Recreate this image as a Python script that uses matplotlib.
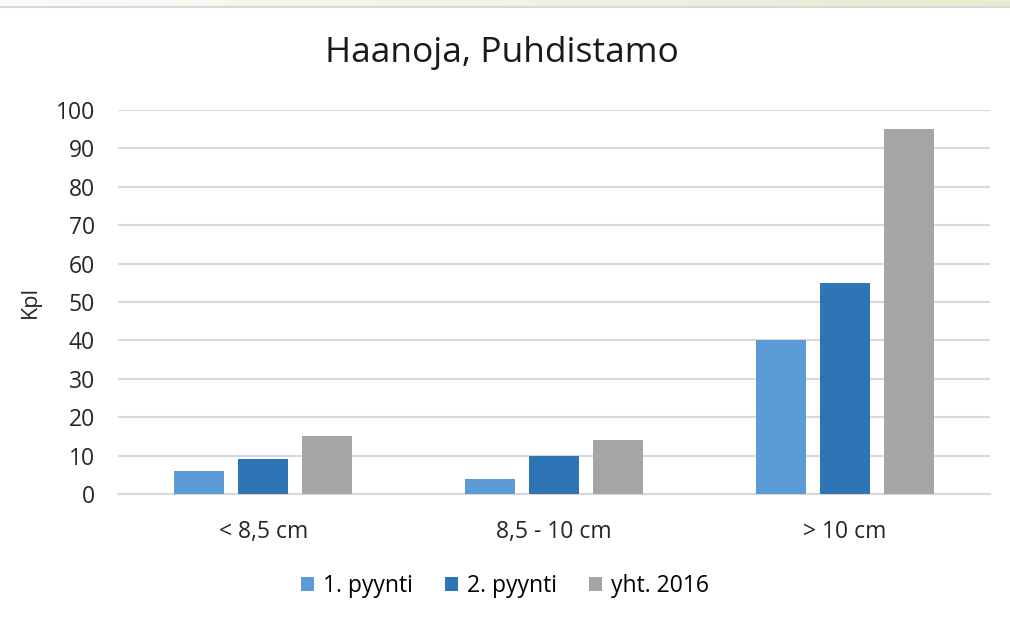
import matplotlib.pyplot as plt
import numpy as np
from matplotlib.colors import LinearSegmentedColormap

categories = ["< 8,5 cm", "8,5 - 10 cm", "> 10 cm"]
series_names = ["1. pyynti", "2. pyynti", "yht. 2016"]
pyynti_1 = [6, 4, 40]
pyynti_2 = [9, 10, 55]
yht_2016 = [15, 14, 95]
y_ticks = [0, 10, 20, 30, 40, 50, 60, 70, 80, 90, 100]

colors = ["#5b9bd5", "#2e75b6", "#a5a5a5"]

plt.rcParams['font.family'] = ['Open Sans', 'DejaVu Sans']


def main():
    fig = plt.figure(figsize=(10.1, 6.23), dpi=100)

    # light gradient strip at the very top
    band = fig.add_axes([0, 1 - 6 / 623, 1, 6 / 623])
    grad = np.linspace(0, 1, 256).reshape(1, -1)
    cmap = LinearSegmentedColormap.from_list("band", ["#fbfbf8", "#e5ebd2"])
    band.imshow(grad, aspect="auto", cmap=cmap, extent=[0, 1, 0, 1])
    band.set_axis_off()
    fig.add_artist(plt.Line2D([0, 1], [1 - 6.5 / 623] * 2, color="#d8d8d8", lw=1.5))

    ax = fig.add_axes([118 / 1010, 1 - 494 / 623, 872 / 1010, 384 / 623])
    x = np.arange(len(categories))
    width = 0.172
    pitch = 0.22
    for i, vals in enumerate([pyynti_1, pyynti_2, yht_2016]):
        ax.bar(x + (i - 1) * pitch, vals, width, color=colors[i],
               label=series_names[i], zorder=3)

    ax.set_xlim(-0.5, 2.5)
    ax.set_ylim(0, 100)
    ax.set_yticks(y_ticks)
    ax.set_xticks(x)
    ax.set_xticklabels(categories)
    ax.yaxis.grid(True, color="#d9d9d9", lw=1.5, zorder=0)
    ax.tick_params(length=0, labelsize=16.5, colors="#262626")
    ax.tick_params(axis="y", pad=16.5)
    ax.tick_params(axis="x", pad=19)
    for s in ["top", "right", "left"]:
        ax.spines[s].set_visible(False)
    ax.spines["bottom"].set_color("#d9d9d9")
    ax.spines["bottom"].set_linewidth(1.5)

    ax.set_ylabel("Kpl", fontsize=15.5, color="#262626")
    ax.yaxis.set_label_coords(-0.088, 0.5)
    fig.text(0.497, 1 - 53 / 623, "Haanoja, Puhdistamo", ha="center", va="center",
             fontsize=25.5, color="#1a1a1a")

    fig.legend(loc="center", bbox_to_anchor=(0.5, 1 - 586 / 623), ncol=3,
               frameon=False, fontsize=16.5, handlelength=0.55, handleheight=0.55,
               handletextpad=0.4, columnspacing=1.4)

    plt.savefig("out.png", dpi=100)


if __name__ == '__main__':
    main()
